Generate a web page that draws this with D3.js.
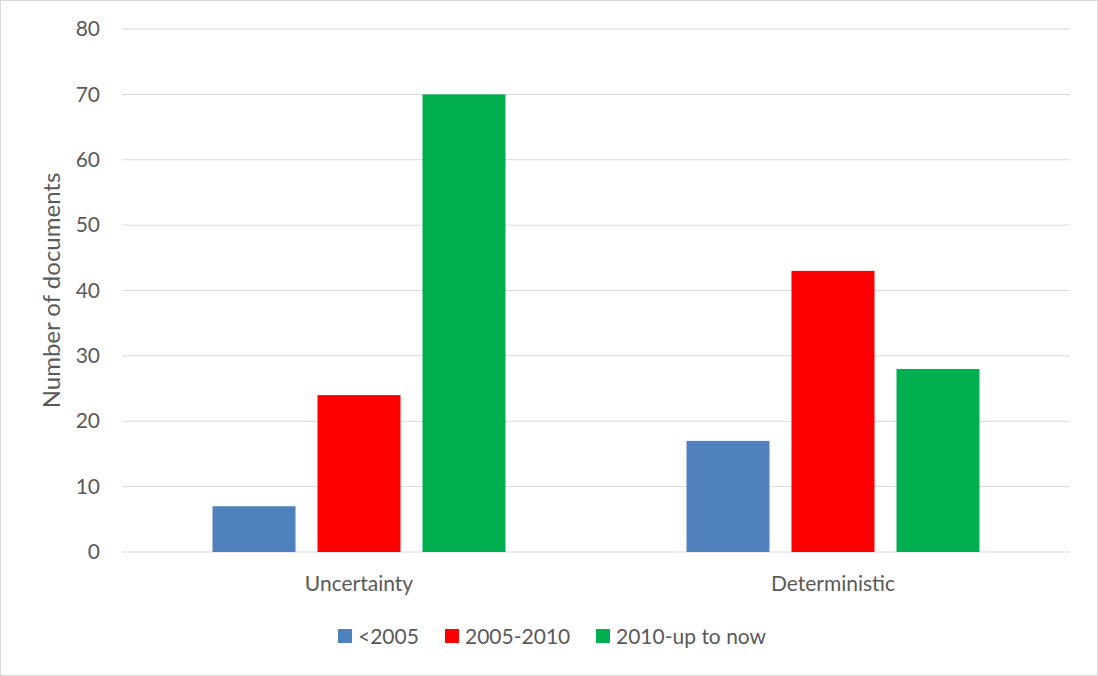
<!DOCTYPE html>
<html>
<head>
<meta charset="utf-8">
<script src="https://cdn.jsdelivr.net/npm/d3@7"></script>
<style>
  html, body { margin: 0; padding: 0; background: #fff; }
  svg text { font-family: Lato, "Open Sans", sans-serif; fill: #595959; }
</style>
</head>
<body>
<svg id="chart" width="1098" height="676"></svg>
<script>
// Document counts by approach and period
const categories = ["Uncertainty", "Deterministic"];
const seriesNames = ["<2005", "2005-2010", "2010-up to now"];
const seriesColors = ["#4f81bd", "#ff0000", "#00b050"];
const valuesBefore2005 = [7, 17];
const values2005to2010 = [24, 43];
const values2010toNow = [70, 28];
const yTicks = [0, 10, 20, 30, 40, 50, 60, 70, 80];

const seriesValues = [valuesBefore2005, values2005to2010, values2010toNow];

const svg = d3.select("#chart");
const W = 1098, H = 676;
const plot = { left: 122, right: 1070, top: 29, bottom: 552 };
const FONT = "Lato, 'Open Sans', sans-serif";

// outer frame
svg.append("rect")
  .attr("x", 0.5).attr("y", 0.5)
  .attr("width", W - 1).attr("height", H - 1)
  .attr("fill", "#fff").attr("stroke", "#d9d9d9");

const x0 = d3.scaleBand()
  .domain(categories)
  .range([plot.left, plot.right]);

const x1 = d3.scaleBand()
  .domain(seriesNames)
  .range([0, x0.bandwidth()])
  .paddingInner(22 / 105)
  .paddingOuter(0.862);

const y = d3.scaleLinear().domain([0, 80]).range([plot.bottom, plot.top]);

// gridlines
svg.append("g")
  .selectAll("line")
  .data(yTicks)
  .join("line")
  .attr("x1", plot.left).attr("x2", plot.right)
  .attr("y1", d => y(d)).attr("y2", d => y(d))
  .attr("stroke", "#d9d9d9").attr("stroke-width", 1);

// y axis labels
const yAxis = d3.axisLeft(y).tickValues(yTicks).tickSize(0).tickPadding(0);
const gy = svg.append("g").attr("transform", `translate(${plot.left - 22},0)`).call(yAxis);
gy.select(".domain").remove();
gy.selectAll("text")
  .attr("font-size", 21)
  .attr("font-family", FONT)
  .attr("fill", "#595959");

// bars
const groups = svg.append("g")
  .selectAll("g")
  .data(categories)
  .join("g")
  .attr("transform", d => `translate(${x0(d)},0)`);

groups.selectAll("rect")
  .data((c, ci) => seriesNames.map((s, si) => ({ s, si, v: seriesValues[si][ci] })))
  .join("rect")
  .attr("x", d => x1(d.s))
  .attr("width", x1.bandwidth())
  .attr("y", d => y(d.v))
  .attr("height", d => y(0) - y(d.v))
  .attr("fill", d => seriesColors[d.si]);

// category axis
const xAxis = d3.axisBottom(x0).tickSize(0).tickPadding(0);
const gx = svg.append("g").attr("transform", `translate(0,${plot.bottom + 24})`).call(xAxis);
gx.select(".domain").remove();
gx.selectAll("text")
  .attr("font-size", 21)
  .attr("font-family", FONT)
  .attr("fill", "#595959");

// y axis title
svg.append("text")
  .attr("transform", `translate(60,${(plot.top + plot.bottom) / 2}) rotate(-90)`)
  .attr("text-anchor", "middle")
  .attr("font-size", 24)
  .text("Number of documents");

// legend
const legendX = [338, 445, 596];
const legend = svg.append("g")
  .selectAll("g")
  .data(seriesNames)
  .join("g")
  .attr("transform", (d, i) => `translate(${legendX[i]},629)`);
legend.append("rect")
  .attr("width", 14).attr("height", 14)
  .attr("fill", (d, i) => seriesColors[i]);
legend.append("text")
  .attr("x", 20).attr("y", 15)
  .attr("font-size", 21)
  .text(d => d);
</script>
</body>
</html>
